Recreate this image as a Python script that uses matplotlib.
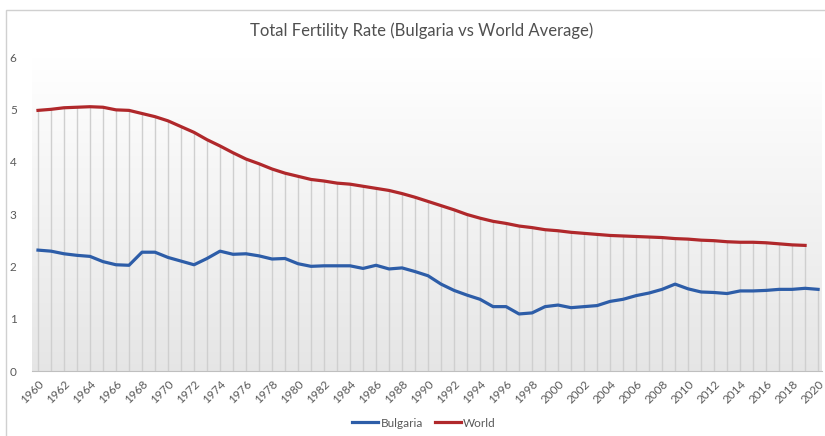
import numpy as np
import matplotlib.pyplot as plt
from matplotlib.patches import Rectangle

# Total fertility rate
years = list(range(1960, 2021))
bulgaria = [2.31, 2.29, 2.24, 2.21, 2.19, 2.09, 2.03, 2.02, 2.27, 2.27,
            2.17, 2.10, 2.03, 2.15, 2.29, 2.23, 2.24, 2.20, 2.14, 2.15,
            2.05, 2.00, 2.01, 2.01, 2.01, 1.96, 2.02, 1.95, 1.97, 1.90,
            1.82, 1.66, 1.54, 1.45, 1.37, 1.23, 1.23, 1.09, 1.11, 1.23,
            1.26, 1.21, 1.23, 1.25, 1.33, 1.37, 1.44, 1.49, 1.56, 1.66,
            1.57, 1.51, 1.50, 1.48, 1.53, 1.53, 1.54, 1.56, 1.56, 1.58,
            1.56]
world = [4.98, 5.00, 5.03, 5.04, 5.05, 5.04, 4.99, 4.98, 4.92, 4.86,
         4.78, 4.67, 4.56, 4.42, 4.30, 4.17, 4.05, 3.96, 3.86, 3.78,
         3.72, 3.66, 3.63, 3.59, 3.57, 3.53, 3.49, 3.45, 3.39, 3.32,
         3.24, 3.16, 3.08, 2.99, 2.92, 2.86, 2.82, 2.77, 2.74, 2.70,
         2.68, 2.65, 2.63, 2.61, 2.59, 2.58, 2.57, 2.56, 2.55, 2.53,
         2.52, 2.50, 2.49, 2.47, 2.46, 2.46, 2.45, 2.43, 2.41, 2.40]

plt.rcParams['font.family'] = ['Lato', 'DejaVu Sans']
text_col = '#595959'

fig = plt.figure(figsize=(8.25, 4.36), dpi=100)
ax = fig.add_axes([32 / 825, 1 - 371 / 436, 790 / 825, 314 / 436])

x0, x1 = 1959.54, 2020.3
ax.set_xlim(x0, x1)
ax.set_ylim(0, 6)

# Plot-area gradient (white at top to light grey at bottom)
shade = np.linspace(1.0, 0.90, 256)
grad = np.dstack([shade, shade, shade]).reshape(256, 1, 3)
ax.imshow(grad, extent=[x0, x1, 0, 6], aspect='auto', origin='upper', zorder=0)

# Drop lines from the highest series value to the axis
tops = [max(b, w) for b, w in zip(bulgaria, world)] + bulgaria[len(world):]
ax.vlines(years, 0, tops, color='#cfcfcf', lw=1, zorder=1)

ax.plot(years, bulgaria, color='#2d5da8', lw=2.3, label='Bulgaria', zorder=3)
ax.plot(years[:len(world)], world, color='#b0282b', lw=2.3, label='World', zorder=3)

for s in ['top', 'right', 'left']:
    ax.spines[s].set_visible(False)
ax.spines['bottom'].set_color('#bfbfbf')

ax.set_xticks(years[::2])
ax.set_xticklabels([str(y) for y in years[::2]], rotation=45, ha='right',
                   rotation_mode='anchor', fontsize=8.5, color=text_col)
ax.set_yticks(range(7))
ax.set_yticklabels([str(v) for v in range(7)], fontsize=8.5, color=text_col)
ax.tick_params(axis='both', length=0)
ax.tick_params(axis='y', pad=11)
ax.tick_params(axis='x', pad=5)

fig.text(422 / 825, 1 - 31 / 436, 'Total Fertility Rate (Bulgaria vs World Average)',
         ha='center', va='center', fontsize=12, color='#505050')

fig.legend(loc='center', bbox_to_anchor=(424 / 825, 1 - 423 / 436), ncol=2,
           frameon=False, fontsize=8.5, handlelength=2.2, handletextpad=0.2,
           columnspacing=1.0, labelcolor=text_col)

# Chart-area border (cropped at right and bottom in the reference)
fig.patches.append(Rectangle((6 / 825, -0.1), 1.2, 1 - 10 / 436 + 0.1,
                             transform=fig.transFigure, fill=False,
                             edgecolor='#d0d0d0', lw=1))

fig.savefig('out.png', dpi=100)
